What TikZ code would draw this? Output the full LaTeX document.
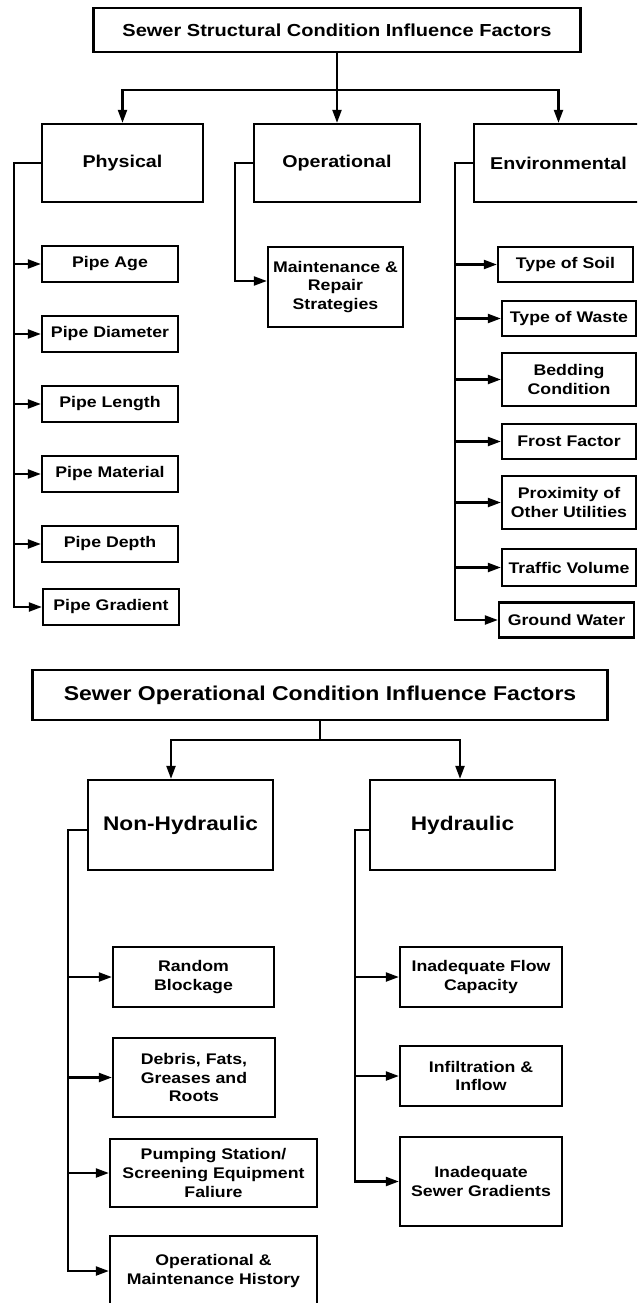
\documentclass[tikz,border=0pt]{standalone}
\usepackage{fontspec}
\setmainfont{Liberation Sans}[FakeStretch=1.15]
\usetikzlibrary{arrows.meta}
\newcommand\itemfont{\fontsize{15.4}{18.7}\selectfont\bfseries}
\newcommand\topfont{\fontsize{17.4}{20}\selectfont\bfseries}
\newcommand\catfont{\fontsize{17.1}{20}\selectfont\bfseries}
\newcommand\toptwofont{\fontsize{20}{23}\selectfont\bfseries}
\newcommand\cattwofont{\fontsize{19.7}{23}\selectfont\bfseries}
\tikzset{
  box/.style={draw, line width=2.3pt, align=center, inner sep=0pt, font=\itemfont},
  conn/.style={line width=2.2pt},
  arr/.style={line width=2.2pt, -{Triangle[length=13pt,width=9pt]}},
}
\begin{document}
\begin{tikzpicture}[x=1pt,y=-1pt]
\useasboundingbox (0,0) rectangle (637,1303);
\clip (0,0) rectangle (637,1303);
\fill[white] (0,0) rectangle (637,1303);

% ---------- Structural ----------
\node[box, font=\topfont, minimum width=487pt, minimum height=44pt] (T1) at (337,30) {Sewer Structural Condition Influence Factors};
\node[box, font=\catfont, minimum width=161pt, minimum height=78pt] (P) at (122.5,163) {Physical};
\node[box, font=\catfont, minimum width=166pt, minimum height=78pt] (O) at (337,163) {Operational};
\node[box, font=\catfont, minimum width=169pt, minimum height=78pt] (E) at (558.5,163) {Environmental};

\draw[arr] (T1.south) -- (O.north);
\draw[arr] ([yshift=-37pt]T1.south) -| (P.north);
\draw[arr] ([yshift=-37pt]T1.south) -| (E.north);

% Physical children
\node[box, minimum width=136pt, minimum height=36pt] (pa) at (110,264) {Pipe Age};
\node[box, minimum width=136pt, minimum height=36pt] (pd) at (110,334) {Pipe Diameter};
\node[box, minimum width=136pt, minimum height=36pt] (pl) at (110,404) {Pipe Length};
\node[box, minimum width=136pt, minimum height=36pt] (pm) at (110,474) {Pipe Material};
\node[box, minimum width=136pt, minimum height=36pt] (pp) at (110,544) {Pipe Depth};
\node[box, minimum width=136pt, minimum height=36pt] (pg) at (111,607) {Pipe Gradient};
\coordinate (ps) at (14,163);
\draw[arr] (P.west) -- (ps) |- (pg.west);
\foreach \n in {pa,pd,pl,pm,pp} \draw[arr] (ps |- \n.west) -- (\n.west);

% Operational child
\node[box, minimum width=135pt, minimum height=80pt] (mr) at (335.5,287) {Maintenance \&\\Repair\\Strategies};
\coordinate (os) at (235,163);
\draw[arr] (O.west) -- (os) |- ([yshift=6pt]mr.west);

% Environmental children
\node[box, minimum width=135pt, minimum height=35pt] (ts) at (565.5,264.5) {Type of Soil};
\node[box, minimum width=134pt, minimum height=35pt] (tw) at (569,318.5) {Type of Waste};
\node[box, minimum width=134pt, minimum height=53pt] (bc) at (569,379.5) {Bedding\\Condition};
\node[box, minimum width=134pt, minimum height=35pt] (ff) at (569,441.5) {Frost Factor};
\node[box, minimum width=134pt, minimum height=53pt] (pu) at (569,502.5) {Proximity of\\Other Utilities};
\node[box, minimum width=134pt, minimum height=37pt] (tv) at (569,567.5) {Traffic Volume};
\node[box, minimum width=135pt, minimum height=35pt] (gw) at (566.5,620) {Ground Water};
\coordinate (es) at (455,163);
\draw[arr] (E.west) -- (es) |- (gw.west);
\foreach \n in {ts,tw,bc,ff,pu,tv} \draw[arr] (es |- \n.west) -- (\n.west);

% ---------- Operational ----------
\node[box, font=\toptwofont, minimum width=575pt, minimum height=50pt] (T2) at (320,695) {Sewer Operational Condition Influence Factors};
\node[box, font=\cattwofont, minimum width=185pt, minimum height=90pt] (NH) at (180.5,825) {Non-Hydraulic};
\node[box, font=\cattwofont, minimum width=185pt, minimum height=90pt] (HY) at (462.5,825) {Hydraulic};

\draw[conn] (T2.south) -- ([yshift=-19pt]T2.south);
\draw[arr] ([yshift=-19pt]T2.south) -| ([xshift=-9.5pt]NH.north);
\draw[arr] ([yshift=-19pt]T2.south) -| ([xshift=-2.5pt]HY.north);

% Non-Hydraulic children
\node[box, minimum width=161pt, minimum height=60pt] (rb) at (193.5,977) {Random\\Blockage};
\node[box, minimum width=162pt, minimum height=79pt] (df) at (194,1077.5) {Debris, Fats,\\Greases and\\Roots};
\node[box, minimum width=207pt, minimum height=68pt] (ps2) at (213.5,1173) {Pumping Station/\\Screening Equipment\\Faliure};
\node[box, minimum width=207pt, minimum height=70pt] (om) at (213.5,1271) {Operational \&\\Maintenance History};
\coordinate (ns) at (68,830);
\draw[arr] (NH.west |- ns) -- (ns) |- (om.west);
\foreach \n in {rb,df,ps2} \draw[arr] (ns |- \n.west) -- (\n.west);

% Hydraulic children
\node[box, minimum width=162pt, minimum height=60pt] (fc) at (481,977) {Inadequate Flow\\Capacity};
\node[box, minimum width=162pt, minimum height=60pt] (ii) at (481,1076) {Infiltration \&\\Inflow};
\node[box, minimum width=162pt, minimum height=89pt] (sg) at (481,1181.5) {Inadequate\\Sewer Gradients};
\coordinate (hs) at (355,830);
\draw[arr] (HY.west |- hs) -- (hs) |- (sg.west);
\foreach \n in {fc,ii} \draw[arr] (hs |- \n.west) -- (\n.west);
\end{tikzpicture}
\end{document}
